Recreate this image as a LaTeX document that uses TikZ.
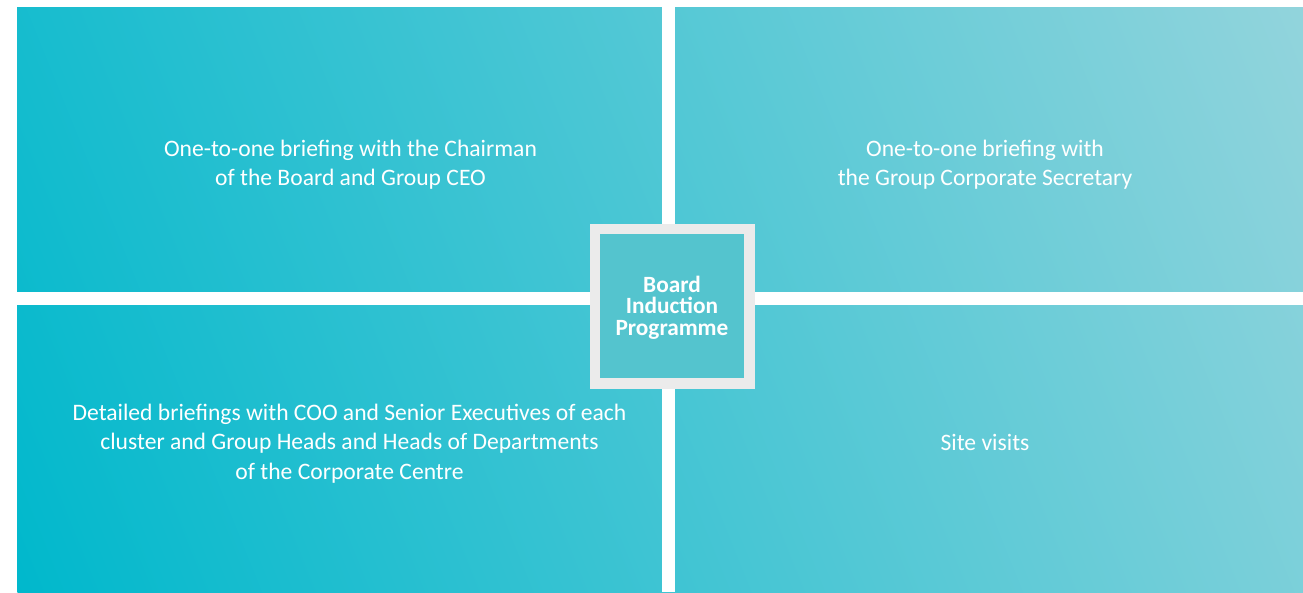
\documentclass[tikz,border=0pt]{standalone}
\usepackage{fontspec}
\setmainfont{Carlito}
\definecolor{tealdark}{RGB}{0,184,204}
\definecolor{teallight}{RGB}{146,212,220}
\definecolor{hubfill}{RGB}{84,196,206}
\definecolor{hubframe}{RGB}{235,235,235}
\tikzset{
  panelnote/.style={text=white, align=center, inner sep=0pt,
    font=\fontsize{23.6}{29.5}\selectfont},
  hubnote/.style={text=white, align=center, fill=hubfill, draw=hubframe,
    line width=10.5pt, minimum size=154.5pt, inner sep=0pt,
    font=\fontsize{23.3}{21.6}\selectfont\bfseries},
  gap/.style={fill=white}
}
\begin{document}
\begin{tikzpicture}[x=1pt,y=-1pt]
\useasboundingbox (0,0) rectangle (1303,592);
% shaded field behind the four panels: a linear gradient rising at 22 degrees
\begin{scope}
  \clip (17,7) rectangle (1303,592);
  \shade[left color=tealdark, right color=teallight,
         transform canvas={rotate around={22:(660,299.5)}}]
    (-45.5,-406.5) rectangle (1365.5,1005.5);
\end{scope}
% white gutters between the panels
\fill[gap] (661.5,0) rectangle (674.5,592);
\fill[gap] (0,292) rectangle (1303,305);
% panel texts
\node[panelnote] (tl) at (350.5,164.5) {One-to-one briefing with the Chairman\\of the Board and Group CEO};
\node[panelnote] (tr) at (985,164.5) {One-to-one briefing with\\the Group Corporate Secretary};
\node[panelnote] (bl) at (349.5,443.5) {Detailed briefings with COO and Senior Executives of each\\cluster and Group Heads and Heads of Departments\\of the Corporate Centre};
\node[panelnote] (br) at (985,442.5) {Site visits};
% central hub
\node[hubnote] (hub) at (672,306) {};
\node[text=white, align=center, inner sep=0pt,
      font=\fontsize{23.3}{21.6}\selectfont\bfseries] (hubtext) at (672,307.5)
  {Board\\Induction\\Programme};
\end{tikzpicture}
\end{document}
